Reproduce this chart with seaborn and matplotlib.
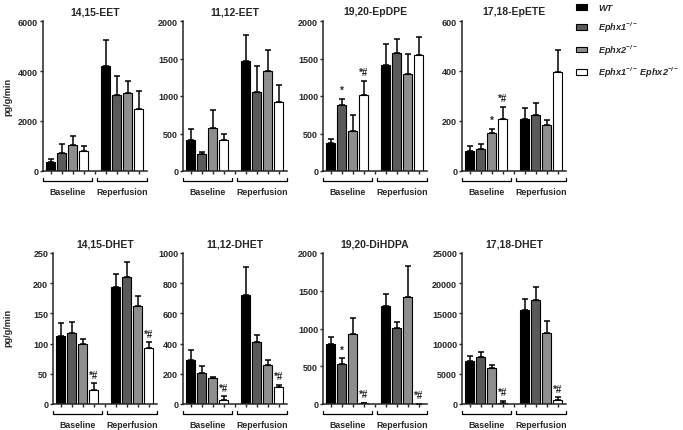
"""
plot.py
-------
Eicosanoid levels (pg/g/min) at baseline and reperfusion, 8 panels
"""

import numpy as np
import pandas as pd
import matplotlib
matplotlib.use("Agg")
import matplotlib.pyplot as plt
from matplotlib.patches import Patch
import seaborn as sns

# ----------------- Data -----------------
genotypes = ["WT", "Ephx1", "Ephx2", "DKO"]
legend_labels = ["WT", r"Ephx1$^{-/-}$", r"Ephx2$^{-/-}$", r"Ephx1$^{-/-}$ Ephx2$^{-/-}$"]
groups = ["Baseline", "Reperfusion"]

titles = ["14,15-EET", "11,12-EET", "19,20-EpDPE", "17,18-EpETE",
          "14,15-DHET", "11,12-DHET", "19,20-DiHDPA", "17,18-DHET"]
y_max = [6000, 2000, 2000, 600, 250, 1000, 2000, 25000]
y_step = [2000, 500, 500, 200, 50, 200, 500, 5000]

# means / SEM: baseline WT, Ephx1, Ephx2, DKO, then reperfusion in same order
eet1415_mean = [350, 730, 1035, 820, 4220, 3040, 3120, 2470]
eet1415_sem = [130, 360, 370, 200, 1010, 770, 490, 715]
eet1112_mean = [409, 222, 573, 413, 1462, 1058, 1329, 924]
eet1112_sem = [151, 27, 240, 85, 351, 338, 289, 227]
epdpe_mean = [380, 876, 531, 1008, 1410, 1569, 1291, 1543]
epdpe_sem = [49, 88, 216, 195, 278, 195, 265, 243]
epete_mean = [82, 90, 153, 208, 208, 223, 183, 395]
epete_sem = [18, 20, 16, 47, 44, 50, 23, 89]
dhet1415_mean = [112, 117, 99, 24, 194, 210, 162, 92]
dhet1415_sem = [22, 18, 8, 10, 22, 25, 17, 10]
dhet1112_mean = [289, 203, 172, 29, 722, 408, 256, 110]
dhet1112_sem = [69, 49, 9, 22, 185, 49, 35, 16]
dihdpa_mean = [799, 530, 927, 9, 1294, 1007, 1422, 0]
dihdpa_sem = [93, 75, 212, 9, 163, 83, 401, 0]
dhet1718_mean = [7120, 7730, 5960, 165, 15560, 17270, 11810, 660]
dhet1718_sem = [770, 880, 440, 335, 1820, 2160, 1930, 440]

means = [eet1415_mean, eet1112_mean, epdpe_mean, epete_mean,
         dhet1415_mean, dhet1112_mean, dihdpa_mean, dhet1718_mean]
sems = [eet1415_sem, eet1112_sem, epdpe_sem, epete_sem,
        dhet1415_sem, dhet1112_sem, dihdpa_sem, dhet1718_sem]

# significance marks: (bar index, text)
marks = [[], [], [(1, "*"), (3, "*#")], [(2, "*"), (3, "*#")],
         [(3, "*#"), (7, "*#")], [(3, "*#"), (7, "*#")],
         [(1, "*"), (3, "*#"), (7, "*#")], [(3, "*#"), (7, "*#")]]

palette = {"WT": "#000000", "Ephx1": "#5a5a5a", "Ephx2": "#8e8e8e", "DKO": "#ffffff"}
slots = ["B_WT", "B_Ephx1", "B_Ephx2", "B_DKO", "gap", "R_WT", "R_Ephx1", "R_Ephx2", "R_DKO"]

# ----------------- Style -----------------
sns.set_style("ticks")
plt.rcParams["font.family"] = ["Liberation Sans", "DejaVu Sans"]
plt.rcParams["font.weight"] = "bold"
plt.rcParams["mathtext.fontset"] = "custom"
plt.rcParams["mathtext.rm"] = "Liberation Sans:italic:bold"
plt.rcParams["mathtext.it"] = "Liberation Sans:italic:bold"
plt.rcParams["mathtext.bf"] = "Liberation Sans:italic:bold"

W, H = 683, 431
fig = plt.figure(figsize=(W / 100, H / 100), dpi=100)

# axes boxes in pixels: left, top, bottom
lefts = [43, 183, 323, 462, 53, 183, 323, 462]
tops = [22] * 4 + [254] * 4
bottoms = [172] * 4 + [405] * 4
ax_w = 104

for i in range(8):
    h_px = bottoms[i] - tops[i]
    ax = fig.add_axes([lefts[i] / W, 1 - bottoms[i] / H, ax_w / W, h_px / H])

    df = pd.DataFrame({
        "slot": [s for s in slots if s != "gap"],
        "genotype": genotypes * 2,
        "value": means[i],
        "sem": sems[i],
    })
    sns.barplot(data=df, x="slot", y="value", hue="genotype", order=slots,
                hue_order=genotypes, palette=palette, dodge=False, width=0.8,
                edgecolor="black", linewidth=0.8, errorbar=None, legend=False, ax=ax)

    xpos = np.array([slots.index(s) for s in df["slot"]])
    ax.errorbar(xpos, df["value"], yerr=[np.zeros(len(df)), df["sem"]], fmt="none",
                ecolor="black", elinewidth=1.1, capsize=2, capthick=1.1)

    tops_val = df["value"] + df["sem"]
    for idx, txt in marks[i]:
        ax.text(xpos[idx], tops_val[idx] + y_max[i] * 0.025, txt, ha="center",
                va="bottom", fontsize=7, fontweight="bold")

    ax.set_xlim(-0.7, 8.75)
    ax.set_ylim(0, y_max[i])
    ax.set_yticks(np.arange(0, y_max[i] + 1, y_step[i]))
    ax.set_xticks(range(len(slots)))
    ax.set_xticklabels([])
    ax.set_xlabel("")
    ax.set_ylabel("")
    ax.tick_params(axis="both", length=2.5, width=1, pad=1, labelsize=6.5)
    for lab in ax.get_yticklabels():
        lab.set_fontweight("bold")
    sns.despine(ax=ax)
    for sp in ["left", "bottom"]:
        ax.spines[sp].set_linewidth(1.1)
    ax.set_title(titles[i], fontsize=7.5, fontweight="bold", pad=5)

    # group brackets under the axis
    tr = ax.get_xaxis_transform()
    yb = -10 / h_px
    yh = -6.5 / h_px
    for g, (x0, x1) in enumerate([(-0.7, 3.75), (4.25, 8.75)]):
        ax.plot([x0, x0, x1, x1], [yh, yb, yb, yh], color="black", lw=0.9,
                transform=tr, clip_on=False)
        ax.text((x0 + x1) / 2, -21 / h_px, groups[g], transform=tr, ha="center",
                va="center", fontsize=6.3, fontweight="bold")

fig.text(8 / W, 1 - 97 / H, "pg/g/min", rotation=90, ha="center", va="center",
         fontsize=6.6, fontweight="bold")
fig.text(8 / W, 1 - 328 / H, "pg/g/min", rotation=90, ha="center", va="center",
         fontsize=6.6, fontweight="bold")

handles = [Patch(facecolor=palette[g], edgecolor="black", linewidth=0.8) for g in genotypes]
fig.legend(handles, legend_labels, loc="upper left", bbox_to_anchor=(570 / W, 1.005),
           frameon=False, borderpad=0.2, handlelength=1.1, handleheight=0.6,
           handletextpad=1.25, labelspacing=0.85,
           prop={"size": 6.6, "weight": "bold", "style": "italic"})

plt.savefig("out.png", dpi=100)
plt.close()
